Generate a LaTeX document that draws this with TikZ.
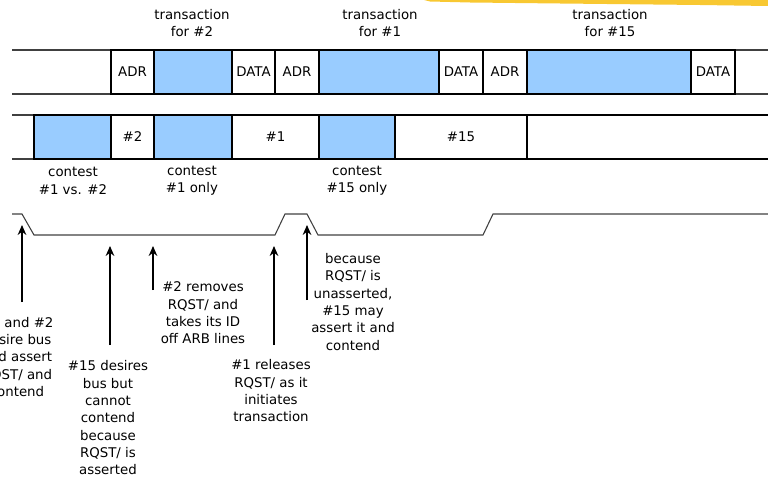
\documentclass[tikz,border=0pt]{standalone}
\usepackage{fontspec}
\setmainfont{DejaVu Sans}
\usepackage{tikz}
\definecolor{busblue}{RGB}{153,204,255}
\definecolor{brushgold}{RGB}{248,200,50}
\usetikzlibrary{arrows.meta}

\begin{document}
\begin{tikzpicture}[x=0.75pt, y=-0.75pt, >=stealth,
  busline/.style={draw=black!75, line width=0.8pt},
  cell/.style={draw=black, line width=1pt},
  lbl/.style={align=center, inner sep=0pt, font=\fontsize{10}{13}\selectfont},
  ptr/.style={-{Stealth[length=7.5pt, width=6.5pt]}, line width=0.9pt}]
  \clip (0,0) rectangle (768,478);
  % Yellow brush stroke at the top
  \fill[brushgold] (424,0) -- (768,0) -- (768,6) -- (700,5) -- (560,3.5) -- (470,2.5) -- (430,1.5) -- cycle;
  % Bus lines
  \draw[busline] (12,50) -- (768,50) (12,94) -- (768,94);
  \draw[busline] (12,115) -- (768,115) (12,159) -- (768,159);
  % Address/data bus cells
  \draw[cell] (111,50) rectangle (154,94);
  \draw[cell, fill=busblue] (154,50) rectangle (232,94);
  \draw[cell] (232,50) rectangle (275,94);
  \draw[cell] (275,50) rectangle (319,94);
  \draw[cell, fill=busblue] (319,50) rectangle (439,94);
  \draw[cell] (439,50) rectangle (483,94);
  \draw[cell] (483,50) rectangle (527,94);
  \draw[cell, fill=busblue] (527,50) rectangle (691,94);
  \draw[cell] (691,50) rectangle (735,94);
  \node[lbl] (adrTwo) at (132.5,72) {ADR};
  \node[lbl] (dataTwo) at (253.5,72) {DATA};
  \node[lbl] (adrOne) at (297,72) {ADR};
  \node[lbl] (dataOne) at (461,72) {DATA};
  \node[lbl] (adrFifteen) at (505,72) {ADR};
  \node[lbl] (dataFifteen) at (713,72) {DATA};
  % Arbitration lines cells
  \draw[cell, fill=busblue] (34,115) rectangle (111,159);
  \draw[cell] (111,115) rectangle (154,159);
  \draw[cell, fill=busblue] (154,115) rectangle (232,159);
  \draw[cell] (232,115) rectangle (319,159);
  \draw[cell, fill=busblue] (319,115) rectangle (395,159);
  \draw[cell] (395,115) rectangle (527,159);
  \draw[cell] (775,115) -- (527,115) -- (527,159) -- (775,159);
  \node[lbl] (idTwo) at (132.5,137) {\#2};
  \node[lbl] (idOne) at (275.5,137) {\#1};
  \node[lbl] (idFifteen) at (461,137) {\#15};
  % Transaction and contest labels
  \node[lbl] (trTwo) at (192,23) {transaction\\for \#2};
  \node[lbl] (trOne) at (380,23) {transaction\\for \#1};
  \node[lbl] (trFifteen) at (610,23) {transaction\\for \#15};
  \node[lbl] (ctBoth) at (73,181) {contest\\\#1 vs. \#2};
  \node[lbl] (ctOne) at (192,181) {contest\\\#1 only};
  \node[lbl] (ctFifteen) at (357,181) {contest\\\#15 only};
  % RQST/ waveform
  \draw[busline] (12,214) -- (22,214) -- (34,235) -- (275,235) -- (285,214)
    -- (307,214) -- (318,235) -- (483,235) -- (493,214) -- (768,214);
  % Arrow ends
  \coordinate (tipA) at (22,225);   \coordinate (tailA) at (22,302);
  \coordinate (tipB) at (110,246);  \coordinate (tailB) at (110,345);
  \coordinate (tipC) at (153,246);  \coordinate (tailC) at (153,290);
  \coordinate (tipD) at (274,246);  \coordinate (tailD) at (274,345);
  \coordinate (tipE) at (307,225);  \coordinate (tailE) at (307,300);
  \draw[ptr] (tailA) -- (tipA);
  \draw[ptr] (tailB) -- (tipB);
  \draw[ptr] (tailC) -- (tipC);
  \draw[ptr] (tailD) -- (tipD);
  \draw[ptr] (tailE) -- (tipE);
  % Notes
  \node[lbl] (noteA) at (17,357) {\#1 and \#2\\desire bus\\and assert\\RQST/ and\\contend};
  \node[lbl] (noteB) at (108,418) {\#15 desires\\bus but\\cannot\\contend\\because\\RQST/ is\\asserted};
  \node[lbl] (noteC) at (203,313) {\#2 removes\\RQST/ and\\takes its ID\\off ARB lines};
  \node[lbl] (noteD) at (271,391) {\#1 releases\\RQST/ as it\\initiates\\transaction};
  \node[lbl] (noteE) at (353,302) {because\\RQST/ is\\unasserted,\\\#15 may\\assert it and\\contend};
\end{tikzpicture}
\end{document}
